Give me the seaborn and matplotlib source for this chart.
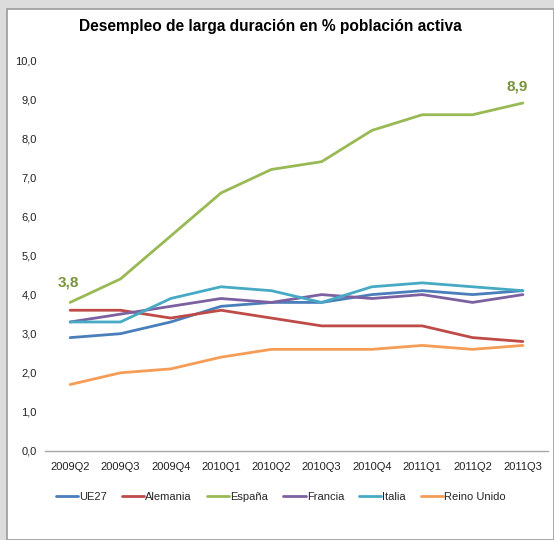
import matplotlib
matplotlib.use("Agg")
import matplotlib.pyplot as plt
import seaborn as sns
import pandas as pd
from matplotlib.patches import Rectangle

quarters = ["2009Q2", "2009Q3", "2009Q4", "2010Q1", "2010Q2",
            "2010Q3", "2010Q4", "2011Q1", "2011Q2", "2011Q3"]
ue27 = [2.9, 3.0, 3.3, 3.7, 3.8, 3.8, 4.0, 4.1, 4.0, 4.1]
alemania = [3.6, 3.6, 3.4, 3.6, 3.4, 3.2, 3.2, 3.2, 2.9, 2.8]
espana = [3.8, 4.4, 5.5, 6.6, 7.2, 7.4, 8.2, 8.6, 8.6, 8.9]
francia = [3.3, 3.5, 3.7, 3.9, 3.8, 4.0, 3.9, 4.0, 3.8, 4.0]
italia = [3.3, 3.3, 3.9, 4.2, 4.1, 3.8, 4.2, 4.3, 4.2, 4.1]
reino_unido = [1.7, 2.0, 2.1, 2.4, 2.6, 2.6, 2.6, 2.7, 2.6, 2.7]
series_names = ["UE27", "Alemania", "España", "Francia", "Italia", "Reino Unido"]
series_values = [ue27, alemania, espana, francia, italia, reino_unido]
colors = ["#4A7EBB", "#BE4B48", "#98B954", "#7D60A0", "#46AAC5", "#F59D56"]
y_ticks = [0, 1, 2, 3, 4, 5, 6, 7, 8, 9, 10]

rows = []
for name, vals in zip(series_names, series_values):
    for i, v in enumerate(vals):
        rows.append({"idx": i, "quarter": quarters[i], "valor": v, "serie": name})
df = pd.DataFrame(rows)

sns.set_theme(style="white")
plt.rcParams["font.family"] = ["Liberation Sans", "DejaVu Sans"]

fig = plt.figure(figsize=(5.54, 5.40), dpi=100)
fig.patch.set_facecolor("#DCDCDC")
# white chart area with border
fig.patches.append(Rectangle((6.5 / 554, 0), 1 - 6.5 / 554, 1 - 8.5 / 540,
                             transform=fig.transFigure, facecolor="white",
                             edgecolor="#9A9A9A", linewidth=1.2, zorder=-10))

ax = fig.add_axes([45 / 554, 1 - 451 / 540, (548 - 45) / 554, (451 - 60) / 540])
ax.set_facecolor("none")
ax.set_zorder(5)

sns.lineplot(data=df, x="idx", y="valor", hue="serie", hue_order=series_names,
             palette=dict(zip(series_names, colors)), linewidth=2.0, ax=ax,
             legend=True)

ax.set_xlim(-0.5, len(quarters) - 0.5)
ax.set_ylim(0, 10)
ax.set_yticks(y_ticks)
ax.set_yticklabels([f"{t:.1f}".replace(".", ",") for t in y_ticks], fontsize=8, color="#222222")
ax.set_xticks(range(len(quarters)))
ax.set_xticklabels(quarters, fontsize=8, color="#222222")
ax.tick_params(axis="both", length=0)
ax.tick_params(axis="y", pad=6)
ax.tick_params(axis="x", pad=8)
ax.set_xlabel("")
ax.set_ylabel("")
for s in ["top", "right", "left"]:
    ax.spines[s].set_visible(False)
ax.spines["bottom"].set_color("#A6A6A6")
ax.spines["bottom"].set_linewidth(1.0)
ax.grid(False)

# data labels
lab_color = "#77933C"
ax.annotate(f"{espana[0]:.1f}".replace(".", ","), (0, espana[0]), xytext=(-1, 9),
            textcoords="offset points", ha="center", va="bottom",
            fontsize=11, fontweight="bold", color=lab_color)
ax.annotate(f"{espana[-1]:.1f}".replace(".", ","), (len(quarters) - 1, espana[-1]),
            xytext=(-4, 7), textcoords="offset points", ha="center", va="bottom",
            fontsize=11, fontweight="bold", color=lab_color)

fig.text(270 / 554, 1 - 27 / 540, "Desempleo de larga duración en % población activa",
         ha="center", va="center", fontsize=11.2, fontweight="bold", color="black")

handles, labels = ax.get_legend_handles_labels()
leg = ax.legend(handles, labels, loc="center",
                bbox_to_anchor=((281 - 45) / 503, -(497 - 451) / 391),
                ncol=6, frameon=False, fontsize=8, handlelength=2.0, handletextpad=0.1,
                columnspacing=1.35)
for h in leg.get_lines():
    h.set_linewidth(2.0)

fig.savefig("out.png", dpi=100, facecolor=fig.get_facecolor())
